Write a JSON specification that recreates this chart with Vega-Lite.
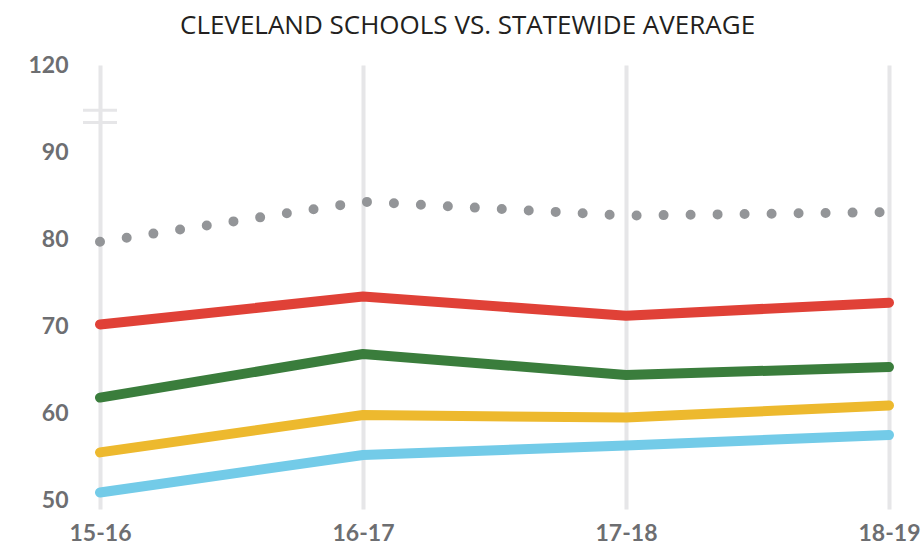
{
  "$schema": "https://vega.github.io/schema/vega-lite/v6.json",
  "width": 789,
  "height": 444,
  "autosize": {"type": "none"},
  "padding": {"left": 100, "top": 65, "right": 32, "bottom": 37},
  "background": "white",
  "config": {"view": {"stroke": null}},
  "title": {
    "text": "CLEVELAND SCHOOLS VS. STATEWIDE AVERAGE",
    "anchor": "start",
    "frame": "group",
    "dx": 80,
    "font": "Open Sans",
    "fontSize": 26,
    "fontWeight": 500,
    "color": "#231F20",
    "offset": 15
  },
  "data": {
    "values": [
      {"year": "15-16", "series": "Statewide average", "value": 79.7},
      {"year": "16-17", "series": "Statewide average", "value": 84.3},
      {"year": "17-18", "series": "Statewide average", "value": 82.7},
      {"year": "18-19", "series": "Statewide average", "value": 83.1},
      {"year": "15-16", "series": "Group 1", "value": 70.2},
      {"year": "16-17", "series": "Group 1", "value": 73.4},
      {"year": "17-18", "series": "Group 1", "value": 71.2},
      {"year": "18-19", "series": "Group 1", "value": 72.7},
      {"year": "15-16", "series": "Group 2", "value": 61.8},
      {"year": "16-17", "series": "Group 2", "value": 66.8},
      {"year": "17-18", "series": "Group 2", "value": 64.4},
      {"year": "18-19", "series": "Group 2", "value": 65.3},
      {"year": "15-16", "series": "Group 3", "value": 55.5},
      {"year": "16-17", "series": "Group 3", "value": 59.8},
      {"year": "17-18", "series": "Group 3", "value": 59.5},
      {"year": "18-19", "series": "Group 3", "value": 60.9},
      {"year": "15-16", "series": "Group 4", "value": 50.9},
      {"year": "16-17", "series": "Group 4", "value": 55.2},
      {"year": "17-18", "series": "Group 4", "value": 56.3},
      {"year": "18-19", "series": "Group 4", "value": 57.5}
    ]
  },
  "encoding": {
    "x": {
      "field": "year",
      "type": "ordinal",
      "scale": {"type": "point", "padding": 0},
      "axis": {
        "title": null,
        "domain": false,
        "ticks": false,
        "labelAngle": 0,
        "labelFont": "Lato",
        "labelFontSize": 23,
        "labelFontWeight": "bold",
        "labelColor": "#6D6E71",
        "labelPadding": 13,
        "grid": true,
        "gridColor": "#E6E6E8",
        "gridWidth": 4
      }
    },
    "y": {
      "field": "value",
      "type": "quantitative",
      "scale": {"domain": [49, 100], "nice": false, "zero": false},
      "axis": {
        "title": null,
        "values": [50, 60, 70, 80, 90, 100],
        "labelExpr": "datum.value == 100 ? '120' : datum.label",
        "domain": false,
        "ticks": false,
        "grid": false,
        "labelFont": "Lato",
        "labelFontSize": 23,
        "labelFontWeight": "bold",
        "labelColor": "#6D6E71",
        "labelPadding": 32
      }
    }
  },
  "layer": [
    {
      "transform": [{"filter": "datum.series == 'Group 4' && datum.year == '15-16'"}],
      "mark": {"type": "tick", "color": "#E6E6E8", "thickness": 3, "size": 34, "opacity": 1, "orient": "horizontal"},
      "encoding": {
        "y": {"datum": 94.8, "type": "quantitative"}
      }
    },
    {
      "transform": [{"filter": "datum.series == 'Group 4' && datum.year == '15-16'"}],
      "mark": {"type": "tick", "color": "#E6E6E8", "thickness": 3, "size": 34, "opacity": 1, "orient": "horizontal"},
      "encoding": {
        "y": {"datum": 93.4, "type": "quantitative"}
      }
    },
    {
      "transform": [{"filter": "datum.series == 'Statewide average'"}],
      "mark": {"type": "line", "color": "#939598", "strokeWidth": 10, "strokeCap": "round", "strokeDash": [0, 27]},
      "encoding": {}
    },
    {
      "transform": [{"filter": "datum.series != 'Statewide average'"}],
      "mark": {"type": "line", "strokeWidth": 10, "strokeCap": "round", "strokeJoin": "round"},
      "encoding": {
        "color": {
          "field": "series",
          "type": "nominal",
          "scale": {
            "domain": ["Group 1", "Group 2", "Group 3", "Group 4"],
            "range": ["#E04137", "#3A7D3C", "#EDB92E", "#73CBE8"]
          },
          "legend": null
        }
      }
    }
  ]
}
